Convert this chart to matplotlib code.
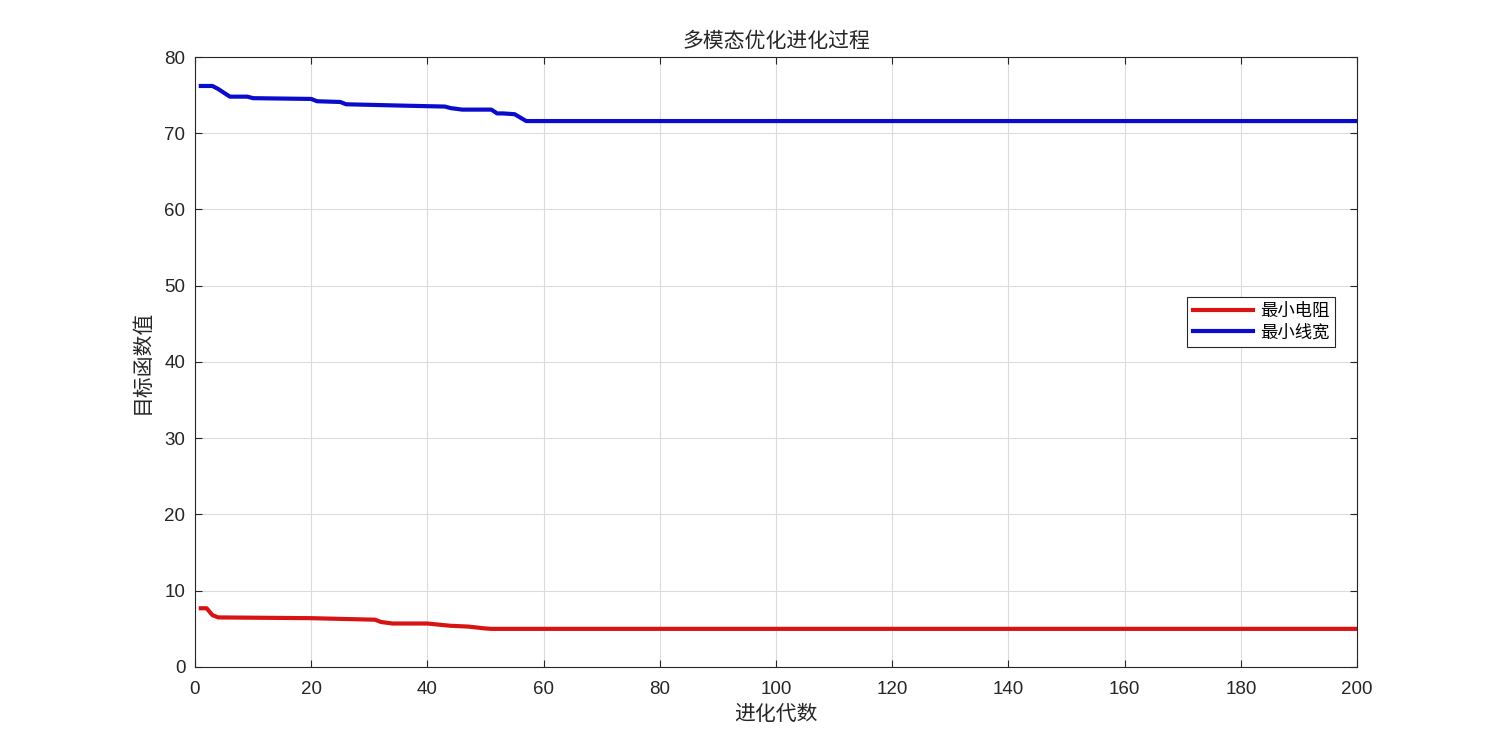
"""多模态优化进化过程"""

import matplotlib
matplotlib.use("Agg")
import matplotlib.pyplot as plt

plt.rcParams["font.family"] = ["Liberation Sans", "Noto Sans CJK SC", "DejaVu Sans"]

# breakpoints (generation, value)
red_gen = [1, 2, 3, 4, 20, 31, 32, 34, 40, 44, 47, 50, 51, 200]
red_val = [7.7, 7.7, 6.8, 6.5, 6.4, 6.2, 5.9, 5.7, 5.7, 5.4, 5.3, 5.05, 5.0, 5.0]

blue_gen = [1, 3, 4, 6, 9, 10, 20, 21, 25, 26, 37, 43, 44, 46, 51, 52, 53, 55, 57, 200]
blue_val = [76.2, 76.2, 75.8, 74.8, 74.8, 74.6, 74.5, 74.2, 74.1, 73.8, 73.6, 73.5,
            73.3, 73.1, 73.1, 72.6, 72.6, 72.5, 71.6, 71.6]

labels = ["最小电阻", "最小线宽"]
x_ticks = list(range(0, 201, 20))
y_ticks = list(range(0, 81, 10))

cjk = ["Noto Sans CJK SC", "DejaVu Sans"]
dark = "#262626"

fig = plt.figure(figsize=(15, 7.5), dpi=100)
ax = fig.add_axes([0.13, 0.1107, 0.7747, 0.8133])

ax.plot(red_gen, red_val, color="#d81313", linewidth=3, label=labels[0])
ax.plot(blue_gen, blue_val, color="#0b0bcc", linewidth=3, label=labels[1])

ax.set_xlim(0, 200)
ax.set_ylim(0, 80)
ax.set_xticks(x_ticks)
ax.set_yticks(y_ticks)
ax.tick_params(direction="in", length=5, width=0.8, top=True, right=True,
               labelsize=13.5, colors=dark)
ax.tick_params(axis="x", pad=10)
ax.tick_params(axis="y", pad=7)
for s in ax.spines.values():
    s.set_color(dark)
    s.set_linewidth(0.8)
ax.grid(True, color="#dcdcdc", linewidth=0.8)
ax.set_axisbelow(True)

ax.set_title("多模态优化进化过程", family=cjk, fontsize=15, color=dark, pad=7,
             fontweight="light")
ax.set_xlabel("进化代数", family=cjk, fontsize=15, color=dark, labelpad=4,
              fontweight="light")
ax.set_ylabel("目标函数值", family=cjk, fontsize=15, color=dark, labelpad=8,
              fontweight="light")

leg = ax.legend(loc="upper right", bbox_to_anchor=(0.981, 0.607),
                prop={"family": cjk, "size": 12.5, "weight": "light"},
                fancybox=False, framealpha=1, edgecolor=dark,
                handlelength=3.5, borderaxespad=0, labelspacing=0.2,
                borderpad=0.3, handletextpad=0.4)
leg.get_frame().set_linewidth(0.8)

fig.savefig("out.png", dpi=100)
